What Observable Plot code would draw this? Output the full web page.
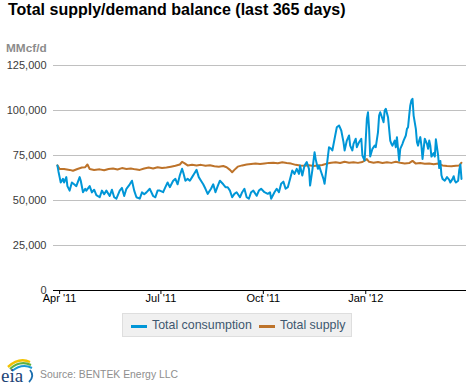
<!DOCTYPE html>
<html>
<head>
<meta charset="utf-8">
<script src="https://cdn.jsdelivr.net/npm/d3@7"></script>
<script src="https://cdn.jsdelivr.net/npm/@observablehq/plot@0.6"></script>
<style>
  html, body { margin: 0; padding: 0; background: #fff; }
  #wrap { position: relative; width: 471px; height: 385px; overflow: hidden; font-family: "Liberation Sans", Arial, sans-serif; }
  #title { position: absolute; left: 8px; top: 1px; font-size: 16px; font-weight: bold; color: #000; white-space: nowrap; }
  #unit { position: absolute; left: 6px; top: 41px; font-size: 11.8px; font-weight: bold; color: #8c8c8c; }
  #chart { position: absolute; left: 0; top: 0; }
  #legend { position: absolute; left: 122px; top: 313px; width: 228px; height: 22px; background: #f0f0f0; border: 1px solid #dedede; }
  .item { position: absolute; top: 4px; font-size: 12.4px; color: #3e576f; white-space: nowrap; }
  .sw { position: absolute; top: 13px; width: 16px; height: 3px; }
  #source { position: absolute; left: 40px; top: 369px; font-size: 10.4px; color: #8e8e8e; white-space: nowrap; }
  #logo { position: absolute; left: 0; top: 358px; }
</style>
</head>
<body>
<div id="wrap">
  <div id="chart"></div>
  <div id="title">Total supply/demand balance (last 365 days)</div>
  <div id="unit">MMcf/d</div>
  <div id="legend"></div>
  <svg id="logo" width="38" height="27">
    <path d="M8 9 Q19 -1 30 4" fill="none" stroke="#f2c200" stroke-width="2.4"/>
    <path d="M10 11 Q20 2 31 7" fill="none" stroke="#5fb142" stroke-width="2.2"/>
    <path d="M12 13 Q22 5 32 10" fill="none" stroke="#1b9ad6" stroke-width="2"/>
    <path d="M30 12 Q35 18 29 24" fill="none" stroke="#1b6fb0" stroke-width="1.8"/>
    <text x="1" y="24" font-family="Liberation Serif, DejaVu Serif, serif" font-size="19" fill="#1d4577">eia</text>
  </svg>
  <div id="source">Source: BENTEK Energy LLC</div>
</div>
<script>
const seriesNames = ["Total consumption", "Total supply"];
const seriesColors = ["#0096d7", "#bd732a"];

const yTicks = [0, 25000, 50000, 75000, 100000, 125000];
const xTickDates = ["2011-04-01", "2011-07-01", "2011-10-01", "2012-01-01"];
const xTickLabels = ["Apr '11", "Jul '11", "Oct '11", "Jan '12"];

const consumptionDates = [
"2011-03-30","2011-03-31","2011-04-01","2011-04-02","2011-04-04","2011-04-05","2011-04-07","2011-04-08","2011-04-10","2011-04-12",
"2011-04-14","2011-04-16","2011-04-19","2011-04-20","2011-04-22","2011-04-24","2011-04-25","2011-04-28","2011-04-30","2011-05-02",
"2011-05-04","2011-05-07","2011-05-09","2011-05-11","2011-05-13","2011-05-16","2011-05-18","2011-05-20","2011-05-22","2011-05-25",
"2011-05-27","2011-05-29","2011-05-31","2011-06-03","2011-06-05","2011-06-07","2011-06-09","2011-06-12","2011-06-14","2011-06-16",
"2011-06-18","2011-06-21","2011-06-24","2011-06-26","2011-06-28","2011-06-30","2011-07-03","2011-07-05","2011-07-07","2011-07-09",
"2011-07-12","2011-07-14","2011-07-16","2011-07-18","2011-07-20","2011-07-21","2011-07-23","2011-07-25","2011-07-27","2011-07-29",
"2011-07-31","2011-08-02","2011-08-04","2011-08-06","2011-08-08","2011-08-10","2011-08-12","2011-08-15","2011-08-17","2011-08-19",
"2011-08-21","2011-08-23","2011-08-26","2011-08-28","2011-08-30","2011-09-01","2011-09-03","2011-09-05","2011-09-07","2011-09-10",
"2011-09-12","2011-09-14","2011-09-16","2011-09-18","2011-09-20","2011-09-22","2011-09-25","2011-09-27","2011-09-29","2011-10-02",
"2011-10-05","2011-10-07","2011-10-08","2011-10-11","2011-10-13","2011-10-15","2011-10-17","2011-10-19","2011-10-21","2011-10-23",
"2011-10-25","2011-10-27","2011-10-29","2011-10-31","2011-11-02","2011-11-03","2011-11-05","2011-11-07","2011-11-09","2011-11-11",
"2011-11-12","2011-11-14","2011-11-16","2011-11-17","2011-11-19","2011-11-20","2011-11-22","2011-11-24","2011-11-25","2011-11-27",
"2011-11-29","2011-12-01","2011-12-02","2011-12-04","2011-12-06","2011-12-08","2011-12-10","2011-12-12","2011-12-13","2011-12-15",
"2011-12-17","2011-12-18","2011-12-20","2011-12-21","2011-12-23","2011-12-24","2011-12-26","2011-12-28","2011-12-29","2011-12-31",
"2012-01-02","2012-01-03","2012-01-04","2012-01-05","2012-01-07","2012-01-09","2012-01-10","2012-01-12","2012-01-13","2012-01-14",
"2012-01-16","2012-01-17","2012-01-18","2012-01-19","2012-01-21","2012-01-22","2012-01-23","2012-01-24","2012-01-25","2012-01-27",
"2012-01-28","2012-01-29","2012-01-30","2012-01-31","2012-02-01","2012-02-03","2012-02-04","2012-02-06","2012-02-07","2012-02-08",
"2012-02-09","2012-02-10","2012-02-11","2012-02-12","2012-02-13","2012-02-15","2012-02-16","2012-02-17","2012-02-18","2012-02-19",
"2012-02-20","2012-02-21","2012-02-22","2012-02-23","2012-02-25","2012-02-26","2012-02-27","2012-02-28","2012-02-29","2012-03-02",
"2012-03-03","2012-03-04","2012-03-06","2012-03-07","2012-03-08","2012-03-09","2012-03-10","2012-03-12","2012-03-14","2012-03-16",
"2012-03-17","2012-03-19","2012-03-20","2012-03-21","2012-03-22","2012-03-24","2012-03-25","2012-03-26","2012-03-27"
];
const consumptionValues = [
69500,66000,63000,60000,62000,60000,63000,58000,55500,60000,
59000,58000,63000,61000,54600,56500,55500,58000,54500,56000,
53000,51800,55500,53500,55500,52500,56000,51800,51000,55500,
57000,52500,56500,59000,61000,55500,51800,51000,54500,53500,
54500,56500,52500,51800,55500,55500,54600,57400,60000,57400,
61000,62000,59000,64000,67600,65700,61000,62000,61000,63000,
65000,67000,63000,61000,59000,56500,53700,56500,59000,54600,
58000,61000,59000,57400,57400,55500,51800,53700,54600,51800,
54600,56500,51800,51000,54600,55500,52600,55500,56500,54600,
53700,54600,51000,54600,56500,54600,59300,60500,56500,57400,
62000,66700,64800,67600,64800,69400,63900,69400,71300,67600,
58300,66700,76800,73000,67600,69400,65700,62000,59300,69400,
79600,78700,77800,84300,90700,91700,88900,82400,77800,83300,
86100,80500,77800,81500,84300,79600,82400,84300,75000,72200,
95400,99000,89800,74400,78700,80500,79600,88000,97200,99000,
95400,93500,100000,100900,96300,89800,83300,81500,80500,83300,
79600,85200,78700,72200,78700,81500,83300,86100,89800,90700,
97200,102800,105600,106500,97200,89800,82400,80500,83300,85200,
80500,73100,78700,84300,81500,78700,83300,80500,74400,76300,
74400,84000,75000,68000,72000,64000,62000,61000,63000,61500,
60000,62000,63500,61000,60000,61000,67000,70000,62000
];

const supplyDates = [
"2011-03-30","2011-04-01","2011-04-05","2011-04-10","2011-04-13","2011-04-17","2011-04-21","2011-04-24","2011-04-26","2011-04-28",
"2011-05-02","2011-05-07","2011-05-11","2011-05-15","2011-05-19","2011-05-23","2011-05-27","2011-05-31","2011-06-04","2011-06-08",
"2011-06-12","2011-06-16","2011-06-20","2011-06-24","2011-06-28","2011-07-02","2011-07-06","2011-07-10","2011-07-14","2011-07-18",
"2011-07-20","2011-07-22","2011-07-25","2011-07-29","2011-08-02","2011-08-06","2011-08-10","2011-08-14","2011-08-18","2011-08-22",
"2011-08-26","2011-08-29","2011-09-01","2011-09-03","2011-09-05","2011-09-08","2011-09-12","2011-09-16","2011-09-20","2011-09-24",
"2011-09-28","2011-10-02","2011-10-06","2011-10-10","2011-10-14","2011-10-18","2011-10-22","2011-10-26","2011-10-30","2011-11-03",
"2011-11-07","2011-11-11","2011-11-15","2011-11-19","2011-11-23","2011-11-27","2011-12-01","2011-12-05","2011-12-09","2011-12-13",
"2011-12-17","2011-12-21","2011-12-25","2011-12-29","2012-01-02","2012-01-04","2012-01-08","2012-01-12","2012-01-16","2012-01-20",
"2012-01-24","2012-01-28","2012-02-01","2012-02-05","2012-02-09","2012-02-12","2012-02-15","2012-02-19","2012-02-23","2012-02-27",
"2012-03-02","2012-03-06","2012-03-10","2012-03-14","2012-03-18","2012-03-22","2012-03-25","2012-03-27"
];
const supplyValues = [
69500,67500,67500,67000,66500,67500,68300,68500,70000,67500,
67000,67300,66800,67500,67800,67200,68000,67500,67800,67300,
67000,67800,68300,67800,68500,68000,68300,68800,69300,70000,
71500,70800,69500,69800,69500,69800,69300,69600,69000,68800,
69200,68500,67000,65700,67000,68800,69500,70000,70300,70600,
70300,70600,70900,71000,70700,71200,70800,70500,69800,69500,
69300,69600,69200,69400,69700,70500,71000,71300,70800,71500,
71000,71200,70900,71400,73000,71500,71000,71400,70800,71200,
70900,71500,71000,70600,70800,72000,70500,70800,70400,70600,
70200,70500,69500,69200,69000,69300,69500,71000
];

const consumption = consumptionDates.map((d, i) => ({date: new Date(d), value: consumptionValues[i]}));
const supply = supplyDates.map((d, i) => ({date: new Date(d), value: supplyValues[i]}));

const chart = Plot.plot({
  width: 471,
  height: 310,
  marginTop: 65,
  marginBottom: 20,
  marginLeft: 53,
  marginRight: 5,
  style: {fontFamily: "Liberation Sans, Arial, sans-serif", fontSize: "11px", background: "transparent", overflow: "visible"},
  x: {type: "utc", domain: [new Date("2011-03-26T12:00Z"), new Date("2012-03-31T12:00Z")]},
  y: {domain: [0, 125000]},
  marks: [
    Plot.gridY(yTicks, {stroke: "#c0c0c0", strokeOpacity: 1}),
    Plot.axisY(yTicks, {tickSize: 0, tickPadding: 7, tickFormat: d3.format(","), fill: "#3a3a3a", label: null, fontSize: 11}),
    Plot.line(supply, {x: "date", y: "value", stroke: seriesColors[1], strokeWidth: 2}),
    Plot.line(consumption, {x: "date", y: "value", stroke: seriesColors[0], strokeWidth: 2}),
    Plot.ruleY([0], {stroke: "#000", strokeWidth: 1}),
    Plot.axisX(xTickDates.map(d => new Date(d)), {tickSize: 4, tickPadding: 0, stroke: "#000", fill: "#000", tickFormat: (d, i) => xTickLabels[i], label: null, fontSize: 11})
  ]
});
document.getElementById("chart").appendChild(chart);

const legend = document.getElementById("legend");
const offsets = [[8, 29], [136, 157]];
seriesNames.forEach((name, i) => {
  const sw = document.createElement("div");
  sw.className = "sw";
  sw.style.left = offsets[i][0] + "px";
  sw.style.top = "11px";
  sw.style.background = seriesColors[i];
  legend.appendChild(sw);
  const t = document.createElement("div");
  t.className = "item";
  t.style.left = offsets[i][1] + "px";
  t.textContent = name;
  legend.appendChild(t);
});
</script>
</body>
</html>
